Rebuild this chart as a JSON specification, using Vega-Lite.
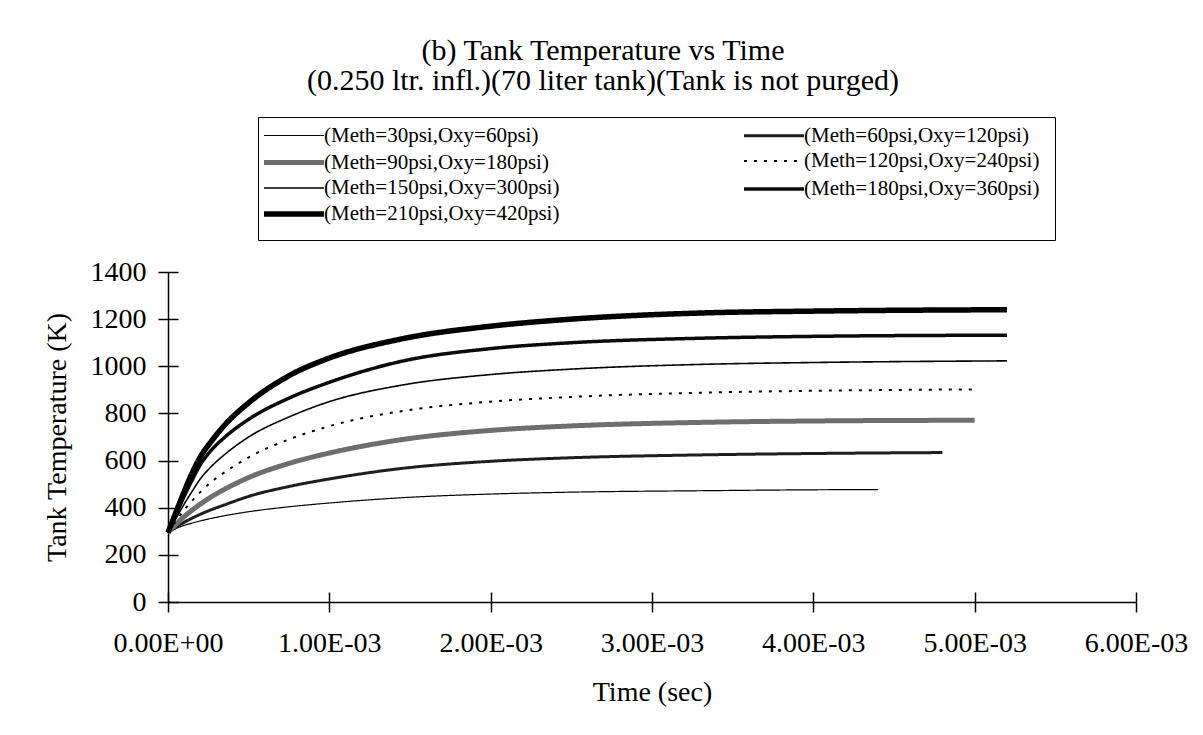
{
  "$schema": "https://vega.github.io/schema/vega-lite/v6.json",
  "autosize": {"type": "none"},
  "width": 968,
  "height": 330,
  "padding": {"left": 168, "top": 272, "right": 67, "bottom": 133},
  "background": "white",
  "title": {
    "text": ["(b) Tank Temperature vs Time", "(0.250 ltr. infl.)(70 liter tank)(Tank is not purged)"],
    "font": "Liberation Serif",
    "fontSize": 30,
    "fontWeight": "normal",
    "color": "black",
    "anchor": "middle",
    "dx": -49,
    "offset": 21,
    "lineHeight": 30
  },
  "data": {
    "values": [
      {"s": "(Meth=30psi,Oxy=60psi)", "t": 0, "T": 295},
      {"s": "(Meth=30psi,Oxy=60psi)", "t": 0.00005, "T": 312},
      {"s": "(Meth=30psi,Oxy=60psi)", "t": 0.0001, "T": 325},
      {"s": "(Meth=30psi,Oxy=60psi)", "t": 0.00015, "T": 335},
      {"s": "(Meth=30psi,Oxy=60psi)", "t": 0.0002, "T": 344},
      {"s": "(Meth=30psi,Oxy=60psi)", "t": 0.00027, "T": 355},
      {"s": "(Meth=30psi,Oxy=60psi)", "t": 0.00035, "T": 366},
      {"s": "(Meth=30psi,Oxy=60psi)", "t": 0.0005, "T": 383},
      {"s": "(Meth=30psi,Oxy=60psi)", "t": 0.00075, "T": 404},
      {"s": "(Meth=30psi,Oxy=60psi)", "t": 0.001, "T": 420},
      {"s": "(Meth=30psi,Oxy=60psi)", "t": 0.00144, "T": 442},
      {"s": "(Meth=30psi,Oxy=60psi)", "t": 0.002, "T": 458},
      {"s": "(Meth=30psi,Oxy=60psi)", "t": 0.0025, "T": 466},
      {"s": "(Meth=30psi,Oxy=60psi)", "t": 0.0033, "T": 472},
      {"s": "(Meth=30psi,Oxy=60psi)", "t": 0.004, "T": 476},
      {"s": "(Meth=30psi,Oxy=60psi)", "t": 0.0044, "T": 477},

      {"s": "(Meth=60psi,Oxy=120psi)", "t": 0, "T": 295},
      {"s": "(Meth=60psi,Oxy=120psi)", "t": 0.00005, "T": 318},
      {"s": "(Meth=60psi,Oxy=120psi)", "t": 0.0001, "T": 338},
      {"s": "(Meth=60psi,Oxy=120psi)", "t": 0.00015, "T": 356},
      {"s": "(Meth=60psi,Oxy=120psi)", "t": 0.0002, "T": 372},
      {"s": "(Meth=60psi,Oxy=120psi)", "t": 0.00027, "T": 392},
      {"s": "(Meth=60psi,Oxy=120psi)", "t": 0.00035, "T": 412},
      {"s": "(Meth=60psi,Oxy=120psi)", "t": 0.0005, "T": 448},
      {"s": "(Meth=60psi,Oxy=120psi)", "t": 0.00075, "T": 490},
      {"s": "(Meth=60psi,Oxy=120psi)", "t": 0.001, "T": 522},
      {"s": "(Meth=60psi,Oxy=120psi)", "t": 0.00144, "T": 566},
      {"s": "(Meth=60psi,Oxy=120psi)", "t": 0.002, "T": 597},
      {"s": "(Meth=60psi,Oxy=120psi)", "t": 0.0025, "T": 612},
      {"s": "(Meth=60psi,Oxy=120psi)", "t": 0.0033, "T": 624},
      {"s": "(Meth=60psi,Oxy=120psi)", "t": 0.004, "T": 630},
      {"s": "(Meth=60psi,Oxy=120psi)", "t": 0.0048, "T": 634},

      {"s": "(Meth=90psi,Oxy=180psi)", "t": 0, "T": 295},
      {"s": "(Meth=90psi,Oxy=180psi)", "t": 0.00005, "T": 330},
      {"s": "(Meth=90psi,Oxy=180psi)", "t": 0.0001, "T": 362},
      {"s": "(Meth=90psi,Oxy=180psi)", "t": 0.00015, "T": 390},
      {"s": "(Meth=90psi,Oxy=180psi)", "t": 0.0002, "T": 415},
      {"s": "(Meth=90psi,Oxy=180psi)", "t": 0.00027, "T": 447},
      {"s": "(Meth=90psi,Oxy=180psi)", "t": 0.00035, "T": 478},
      {"s": "(Meth=90psi,Oxy=180psi)", "t": 0.0005, "T": 528},
      {"s": "(Meth=90psi,Oxy=180psi)", "t": 0.00075, "T": 588},
      {"s": "(Meth=90psi,Oxy=180psi)", "t": 0.001, "T": 632},
      {"s": "(Meth=90psi,Oxy=180psi)", "t": 0.00144, "T": 688},
      {"s": "(Meth=90psi,Oxy=180psi)", "t": 0.002, "T": 728},
      {"s": "(Meth=90psi,Oxy=180psi)", "t": 0.0025, "T": 747},
      {"s": "(Meth=90psi,Oxy=180psi)", "t": 0.0033, "T": 762},
      {"s": "(Meth=90psi,Oxy=180psi)", "t": 0.004, "T": 768},
      {"s": "(Meth=90psi,Oxy=180psi)", "t": 0.005, "T": 771},

      {"s": "(Meth=120psi,Oxy=240psi)", "t": 0, "T": 295},
      {"s": "(Meth=120psi,Oxy=240psi)", "t": 0.00005, "T": 345},
      {"s": "(Meth=120psi,Oxy=240psi)", "t": 0.0001, "T": 390},
      {"s": "(Meth=120psi,Oxy=240psi)", "t": 0.00015, "T": 430},
      {"s": "(Meth=120psi,Oxy=240psi)", "t": 0.0002, "T": 466},
      {"s": "(Meth=120psi,Oxy=240psi)", "t": 0.00027, "T": 510},
      {"s": "(Meth=120psi,Oxy=240psi)", "t": 0.00035, "T": 550},
      {"s": "(Meth=120psi,Oxy=240psi)", "t": 0.0005, "T": 614},
      {"s": "(Meth=120psi,Oxy=240psi)", "t": 0.00075, "T": 690},
      {"s": "(Meth=120psi,Oxy=240psi)", "t": 0.001, "T": 746},
      {"s": "(Meth=120psi,Oxy=240psi)", "t": 0.0015, "T": 815},
      {"s": "(Meth=120psi,Oxy=240psi)", "t": 0.002, "T": 850},
      {"s": "(Meth=120psi,Oxy=240psi)", "t": 0.0025, "T": 870},
      {"s": "(Meth=120psi,Oxy=240psi)", "t": 0.0033, "T": 888},
      {"s": "(Meth=120psi,Oxy=240psi)", "t": 0.004, "T": 896},
      {"s": "(Meth=120psi,Oxy=240psi)", "t": 0.005, "T": 902},

      {"s": "(Meth=150psi,Oxy=300psi)", "t": 0, "T": 295},
      {"s": "(Meth=150psi,Oxy=300psi)", "t": 0.00005, "T": 355},
      {"s": "(Meth=150psi,Oxy=300psi)", "t": 0.0001, "T": 415},
      {"s": "(Meth=150psi,Oxy=300psi)", "t": 0.00015, "T": 470},
      {"s": "(Meth=150psi,Oxy=300psi)", "t": 0.0002, "T": 522},
      {"s": "(Meth=150psi,Oxy=300psi)", "t": 0.00027, "T": 576},
      {"s": "(Meth=150psi,Oxy=300psi)", "t": 0.00035, "T": 625},
      {"s": "(Meth=150psi,Oxy=300psi)", "t": 0.0005, "T": 700},
      {"s": "(Meth=150psi,Oxy=300psi)", "t": 0.00075, "T": 785},
      {"s": "(Meth=150psi,Oxy=300psi)", "t": 0.001, "T": 850},
      {"s": "(Meth=150psi,Oxy=300psi)", "t": 0.00144, "T": 919},
      {"s": "(Meth=150psi,Oxy=300psi)", "t": 0.002, "T": 965},
      {"s": "(Meth=150psi,Oxy=300psi)", "t": 0.0025, "T": 988},
      {"s": "(Meth=150psi,Oxy=300psi)", "t": 0.0033, "T": 1008},
      {"s": "(Meth=150psi,Oxy=300psi)", "t": 0.004, "T": 1016},
      {"s": "(Meth=150psi,Oxy=300psi)", "t": 0.0052, "T": 1023},

      {"s": "(Meth=180psi,Oxy=360psi)", "t": 0, "T": 295},
      {"s": "(Meth=180psi,Oxy=360psi)", "t": 0.00005, "T": 372},
      {"s": "(Meth=180psi,Oxy=360psi)", "t": 0.0001, "T": 448},
      {"s": "(Meth=180psi,Oxy=360psi)", "t": 0.00015, "T": 518},
      {"s": "(Meth=180psi,Oxy=360psi)", "t": 0.0002, "T": 582},
      {"s": "(Meth=180psi,Oxy=360psi)", "t": 0.00027, "T": 645},
      {"s": "(Meth=180psi,Oxy=360psi)", "t": 0.00035, "T": 698},
      {"s": "(Meth=180psi,Oxy=360psi)", "t": 0.0005, "T": 775},
      {"s": "(Meth=180psi,Oxy=360psi)", "t": 0.00075, "T": 865},
      {"s": "(Meth=180psi,Oxy=360psi)", "t": 0.001, "T": 932},
      {"s": "(Meth=180psi,Oxy=360psi)", "t": 0.00144, "T": 1020},
      {"s": "(Meth=180psi,Oxy=360psi)", "t": 0.002, "T": 1075},
      {"s": "(Meth=180psi,Oxy=360psi)", "t": 0.0025, "T": 1100},
      {"s": "(Meth=180psi,Oxy=360psi)", "t": 0.0033, "T": 1119},
      {"s": "(Meth=180psi,Oxy=360psi)", "t": 0.004, "T": 1127},
      {"s": "(Meth=180psi,Oxy=360psi)", "t": 0.0052, "T": 1132},

      {"s": "(Meth=210psi,Oxy=420psi)", "t": 0, "T": 295},
      {"s": "(Meth=210psi,Oxy=420psi)", "t": 0.00005, "T": 382},
      {"s": "(Meth=210psi,Oxy=420psi)", "t": 0.0001, "T": 468},
      {"s": "(Meth=210psi,Oxy=420psi)", "t": 0.00015, "T": 548},
      {"s": "(Meth=210psi,Oxy=420psi)", "t": 0.0002, "T": 615},
      {"s": "(Meth=210psi,Oxy=420psi)", "t": 0.00027, "T": 683},
      {"s": "(Meth=210psi,Oxy=420psi)", "t": 0.00035, "T": 750},
      {"s": "(Meth=210psi,Oxy=420psi)", "t": 0.0005, "T": 845},
      {"s": "(Meth=210psi,Oxy=420psi)", "t": 0.00075, "T": 960},
      {"s": "(Meth=210psi,Oxy=420psi)", "t": 0.001, "T": 1035},
      {"s": "(Meth=210psi,Oxy=420psi)", "t": 0.00144, "T": 1115},
      {"s": "(Meth=210psi,Oxy=420psi)", "t": 0.002, "T": 1170},
      {"s": "(Meth=210psi,Oxy=420psi)", "t": 0.0025, "T": 1200},
      {"s": "(Meth=210psi,Oxy=420psi)", "t": 0.0033, "T": 1226},
      {"s": "(Meth=210psi,Oxy=420psi)", "t": 0.004, "T": 1234},
      {"s": "(Meth=210psi,Oxy=420psi)", "t": 0.0052, "T": 1240}
    ]
  },
  "layer": [
    {
      "mark": {"type": "line", "interpolate": "monotone", "strokeCap": "butt"},
      "encoding": {
        "x": {
          "field": "t", "type": "quantitative",
          "scale": {"domain": [0, 0.006], "nice": false, "zero": false},
          "axis": {
            "values": [0, 0.001, 0.002, 0.003, 0.004, 0.005, 0.006],
            "labelExpr": "datum.value == 0 ? '0.00E+00' : format(datum.value * 1000, '.2f') + 'E-03'",
            "title": "Time (sec)",
            "tickSize": 10,
            "labelPadding": 17,
            "titlePadding": 21,
            "labelFlush": false,
            "labelOverlap": false
          }
        },
        "y": {
          "field": "T", "type": "quantitative",
          "scale": {"domain": [0, 1400], "nice": false},
          "axis": {
            "values": [0, 200, 400, 600, 800, 1000, 1200, 1400],
            "format": "d",
            "title": "Tank Temperature (K)",
            "tickSize": 10,
            "labelPadding": 12,
            "titlePadding": 19,
            "labelFlush": false,
            "labelOverlap": false
          }
        },
        "color": {
          "field": "s", "type": "ordinal",
          "scale": {
            "type": "ordinal",
            "domain": ["(Meth=30psi,Oxy=60psi)", "(Meth=60psi,Oxy=120psi)", "(Meth=90psi,Oxy=180psi)", "(Meth=120psi,Oxy=240psi)", "(Meth=150psi,Oxy=300psi)", "(Meth=180psi,Oxy=360psi)", "(Meth=210psi,Oxy=420psi)"],
            "range": ["#000000", "#1e1e1e", "#6e6e6e", "#000000", "#000000", "#0a0a0a", "#000000"]
          },
          "legend": {
            "title": null,
            "encode": {
              "symbols": {
                "update": {
                  "stroke": {"scale": "color", "field": "value"},
                  "strokeWidth": {"scale": "strokeWidth", "field": "value"},
                  "strokeDash": {"scale": "strokeDash", "field": "value"}
                }
              },
              "labels": {"update": {"dy": {"value": -8}}}
            }
          }
        },
        "strokeDash": {
          "field": "s", "type": "ordinal",
          "scale": {
            "type": "ordinal",
            "domain": ["(Meth=30psi,Oxy=60psi)", "(Meth=60psi,Oxy=120psi)", "(Meth=90psi,Oxy=180psi)", "(Meth=120psi,Oxy=240psi)", "(Meth=150psi,Oxy=300psi)", "(Meth=180psi,Oxy=360psi)", "(Meth=210psi,Oxy=420psi)"],
            "range": [[1, 0], [1, 0], [1, 0], [3, 7], [1, 0], [1, 0], [1, 0]]
          },
          "legend": {"title": null}
        },
        "strokeWidth": {
          "field": "s", "type": "ordinal",
          "scale": {
            "type": "ordinal",
            "domain": ["(Meth=30psi,Oxy=60psi)", "(Meth=60psi,Oxy=120psi)", "(Meth=90psi,Oxy=180psi)", "(Meth=120psi,Oxy=240psi)", "(Meth=150psi,Oxy=300psi)", "(Meth=180psi,Oxy=360psi)", "(Meth=210psi,Oxy=420psi)"],
            "range": [1.2, 3, 5, 2, 1.6, 3.5, 5.5]
          },
          "legend": {"title": null}
        }
      }
    },
    {
      "mark": {"type": "point", "opacity": 0},
      "encoding": {
        "x": {
          "field": "t", "type": "quantitative",
          "scale": {"domain": [0, 0.006], "nice": false, "zero": false},
          "axis": {
            "orient": "bottom",
            "values": [0, 0.001, 0.002, 0.003, 0.004, 0.005, 0.006],
            "labels": false, "title": null, "domain": false,
            "tickSize": -10
          }
        },
        "y": {
          "field": "T", "type": "quantitative",
          "scale": {"domain": [0, 1400], "nice": false},
          "axis": {
            "orient": "left",
            "values": [0, 200, 400, 600, 800, 1000, 1200, 1400],
            "labels": false, "title": null, "domain": false,
            "tickSize": -10
          }
        }
      }
    }
  ],
  "resolve": {"axis": {"x": "independent", "y": "independent"}},
  "config": {
    "view": {"stroke": null},
    "axis": {
      "grid": false,
      "domainColor": "black",
      "domainWidth": 1.5,
      "tickColor": "black",
      "tickWidth": 1.5,
      "labelFont": "Liberation Serif",
      "labelFontSize": 28,
      "labelColor": "black",
      "titleFont": "Liberation Serif",
      "titleFontSize": 28,
      "titleFontWeight": "normal",
      "titleColor": "black"
    },
    "legend": {
      "orient": "none",
      "direction": "horizontal",
      "legendX": 90,
      "legendY": -155,
      "columns": 2,
      "strokeColor": "black",
      "fillColor": "white",
      "padding": 15,
      "labelFont": "Liberation Serif",
      "labelFontSize": 21,
      "labelColor": "black",
      "labelLimit": 400,
      "labelOffset": 25,
      "symbolType": "M-2.2,-0.8H3.8",
      "symbolSize": 400,
      "rowPadding": 4,
      "columnPadding": 177
    }
  }
}
